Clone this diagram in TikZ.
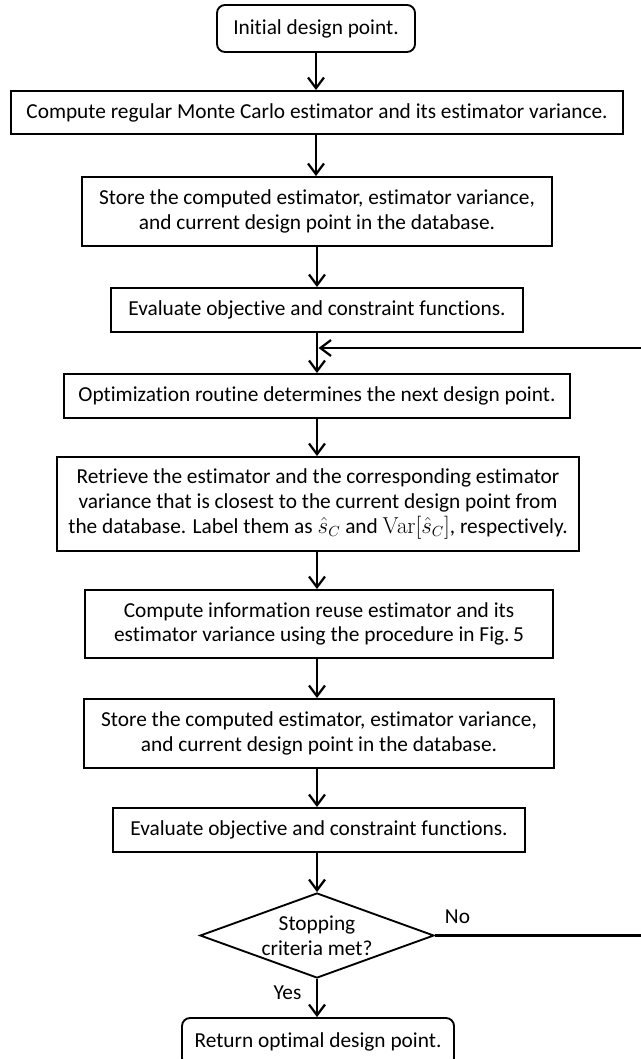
\documentclass[tikz,border=0pt]{standalone}
\usepackage[no-math]{fontspec}
\setmainfont{Carlito}[Ligatures=NoCommon]
\usetikzlibrary{arrows.meta,shapes.geometric}

\tikzset{
  stepbox/.style={draw,line width=1.4pt,rectangle,inner sep=0pt,align=center,
    minimum width=#1,font=\fontsize{16}{18.5}\selectfont},
  endbox/.style={stepbox=#1,rounded corners=6pt},
  flow/.style={line width=1.7pt,-{Straight Barb[length=8pt,width=12pt,line width=1.7pt]}},
  plain/.style={line width=1.4pt},
  tag/.style={inner sep=0pt,font=\fontsize{16}{18.5}\selectfont}
}

\begin{document}
\begin{tikzpicture}[x=0.75pt,y=0.75pt,yscale=-1,xscale=1]
\useasboundingbox (0,0) rectangle (641,1059);

% Boxes
\node [endbox=148.5pt,minimum height=35.25pt] (init) at (316,28.5) {Initial design point.};
\node [stepbox=459pt,minimum height=32.25pt] (mc) at (317,112.5) {Compute regular Monte Carlo estimator and its estimator variance.};
\node [stepbox=352.5pt,minimum height=51.75pt] (store1) at (317,211.5) {Store the computed estimator, estimator variance,\\and current design point in the database.};
\node [stepbox=309pt,minimum height=33pt] (eval1) at (317,310) {Evaluate objective and constraint functions.};
\node [stepbox=379.5pt,minimum height=33pt] (opt) at (317,396) {Optimization routine determines the next design point.};
\node [stepbox=391.5pt,minimum height=70.5pt] (retr) at (318,504) {Retrieve the estimator and the corresponding estimator\\variance that is closest to the current design point from\\the database. Label them as $\hat{s}_C$ and $\mathrm{Var}[\hat{s}_C]$, respectively.};
\node [stepbox=351pt,minimum height=51pt] (reuse) at (319,624) {Compute information reuse estimator and its\\estimator variance using the procedure in Fig.\,5};
\node [stepbox=352.5pt,minimum height=51.75pt] (store2) at (319,733.5) {Store the computed estimator, estimator variance,\\and current design point in the database.};
\node [stepbox=309pt,minimum height=33pt] (eval2) at (319,830) {Evaluate objective and constraint functions.};
% Decision
\node [draw,plain,diamond,aspect=2.75,inner sep=0pt,minimum width=175.5pt,minimum height=63.75pt,
  align=center,font=\fontsize{16}{18.5}\selectfont] (dec) at (317,935.5) {Stopping\\criteria met?};
\node [endbox=204pt,minimum height=36pt] (final) at (318,1042) {Return optimal design point.};

% Loop back
\coordinate (turn) at (643,348);
\coordinate (join) at (318.5,348);

% Arrows
\draw [flow] (init) -- (init |- mc.north);
\draw [flow] (mc.south -| init) -- (init |- store1.north);
\draw [flow] (store1) -- (store1 |- eval1.north);
\draw [flow] (eval1) -- (eval1 |- opt.north);
\draw [flow] (opt) -- (opt |- retr.north);
\draw [flow] (retr.south -| opt) -- (opt |- reuse.north);
\draw [flow] (reuse.south -| opt) -- (opt |- store2.north);
\draw [flow] (store2.south -| opt) -- (opt |- eval2.north);
\draw [flow] (eval2.south -| opt) -- (dec.north);
\draw [flow] (dec) -- (dec |- final.north);
\draw [flow] (dec.east) -- (dec.east -| turn) -- (turn) -- (join);

% Text Node
\node [tag] (no) at (457.5,917) {No};
% Text Node
\node [tag] (yes) at (287.5,993) {Yes};

\end{tikzpicture}
\end{document}
